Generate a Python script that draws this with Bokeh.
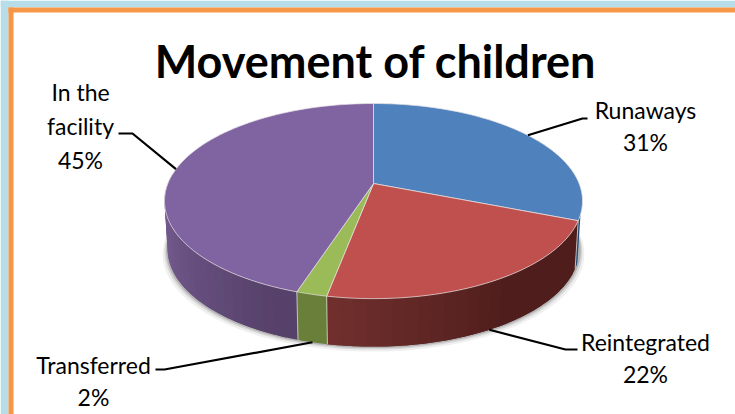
import numpy as np
from bokeh.plotting import figure
from bokeh.models import Range1d
from bokeh.core.properties import value
from bokeh.embed import file_html
from bokeh.resources import INLINE

title_text = "Movement of children"
categories = ["Runaways", "Reintegrated", "Transferred", "In the facility"]
shares = [31, 22, 2, 45]
top_colors = ["#4f81bd", "#c0504d", "#9bbb59", "#8064a2"]
side_near = ["#234a74", "#4f1e1c", "#6a803a", "#56416a"]
side_far = ["#234a74", "#702f2d", "#6a803a", "#7b6097"]
label_lines = [["Runaways", "31%"], ["Reintegrated", "22%"], ["Transferred", "2%"],
               ["In the", "facility", "45%"]]

W, H = 735, 414
p = figure(width=W, height=H, output_backend="svg", toolbar_location=None,
           x_range=Range1d(0, W), y_range=Range1d(H, 0),
           x_axis_location=None, y_axis_location=None, min_border=0,
           background_fill_color="white", border_fill_color="white", outline_line_color=None)
p.grid.visible = False

# perspective disc model
CX, CY, A, B, K, DEPTH, SHRINK = 373.0, 183.0, 205.6, 94.4, 0.18, 48.0, 0.985


def top(t):
    t = np.radians(t)
    X, Y = np.sin(t), np.cos(t)
    s = 1 / (1 + K * Y)
    return CX + A * X * s, CY - B * Y * s


def low(t):
    x, y = top(t)
    return CX + (x - CX) * SHRINK, y + DEPTH


# slide background and border frame
p.quad(left=0, right=W, top=0, bottom=7, fill_color="#b7dde8", line_color=None)
p.quad(left=0, right=8, top=0, bottom=H, fill_color="#b7dde8", line_color=None)
p.quad(left=8, right=13, top=7, bottom=H, fill_color="#f79646", line_color=None)
p.quad(left=8, right=W, top=7, bottom=12, fill_color="#f79646", line_color=None)

# soft shadow below the extruded rim
for grow, alpha in [(5, 0.06), (3, 0.10), (1.5, 0.16)]:
    ts = np.linspace(80, 280, 120)
    xs, ys = low(ts)
    xs = CX + (xs - CX) * (1 + grow / 205)
    p.patch(xs, ys + grow, fill_color="#000000", fill_alpha=alpha, line_color=None)

edges = np.cumsum([0] + shares) * 3.6


def lerp(c1, c2, f):
    a = np.array([int(c1[i:i + 2], 16) for i in (1, 3, 5)], float)
    b = np.array([int(c2[i:i + 2], 16) for i in (1, 3, 5)], float)
    v = a + (b - a) * f
    return "#%02x%02x%02x" % tuple(int(round(u)) for u in v)


# rim: each segment overlaps the next so no seams show through
for i in range(len(shares)):
    a0, a1 = edges[i], edges[i + 1]
    if i == 0:
        a0 = a1 - 3.5
    if i == 3:
        a1 = 276
    n = max(2, int((a1 - a0) / 3))
    ts = np.linspace(a0, a1, n + 1)
    order = range(n - 1, -1, -1) if i == 3 else range(n)
    for j in order:
        f = j / max(1, n - 1)
        if i == 1:
            f = min(1.0, max(0.0, (f - 0.45) / 0.55))
        elif i == 3:
            f = min(1.0, f * 1.15)
        c = lerp(side_near[i], side_far[i], f)
        hi = ts[min(j + 2, n)]
        seg = np.linspace(ts[j], hi, 6)
        tx, ty = top(seg)
        bx, by = low(seg)
        p.patch(list(tx) + list(bx[::-1]), list(ty) + list(by[::-1]),
                fill_color=c, line_color=None)

# rim seams
for i in (1, 2, 3):
    tx, ty = top(edges[i])
    bx, by = low(edges[i])
    p.line([tx, bx], [ty, by], line_color="#e4e4e0", line_width=1, line_alpha=0.75)

# top faces
for i in range(len(shares)):
    ts = np.linspace(edges[i], edges[i + 1], 80)
    x, y = top(ts)
    p.patch([CX] + list(x), [CY] + list(y), fill_color=top_colors[i],
            line_color="#e8e4e4", line_width=1, line_alpha=0.7)

# leader lines anchored at each slice's mid angle
mids = (edges[:-1] + edges[1:]) / 2
ax, ay = top(mids)
lx, ly = low(mids)
anchors = [(ax[0], ay[0]), (lx[1], ly[1]), (lx[2], ly[2]), (ax[3], ay[3])]
elbows = [[(582, 118), (587, 118)], [(565, 349), (577, 349)],
          [(164, 369), (155, 369)], [(132, 133), (118, 133)]]
for (x0, y0), el in zip(anchors, elbows):
    p.line([x0] + [e[0] for e in el], [y0] + [e[1] for e in el], line_color="#000000", line_width=2.2)

# labels
label_x = [645, 645, 93, 80]
label_top = [109, 341, 364, 91]
row_h = [32.5, 32.5, 32, 34]
for lines, x, y0, h in zip(label_lines, label_x, label_top, row_h):
    for k, ln in enumerate(lines):
        p.text([x], [y0 + k * h], text=[ln], text_font=value("Lato"), text_font_size="23px",
               text_color="#000000", text_align="center", text_baseline="middle")

p.text([375], [60], text=[title_text], text_font=value("Lato"), text_font_size="45px",
       text_font_style="bold", text_color="#000000", text_align="center", text_baseline="middle")

open("out.html", "w").write(file_html(p, INLINE))
